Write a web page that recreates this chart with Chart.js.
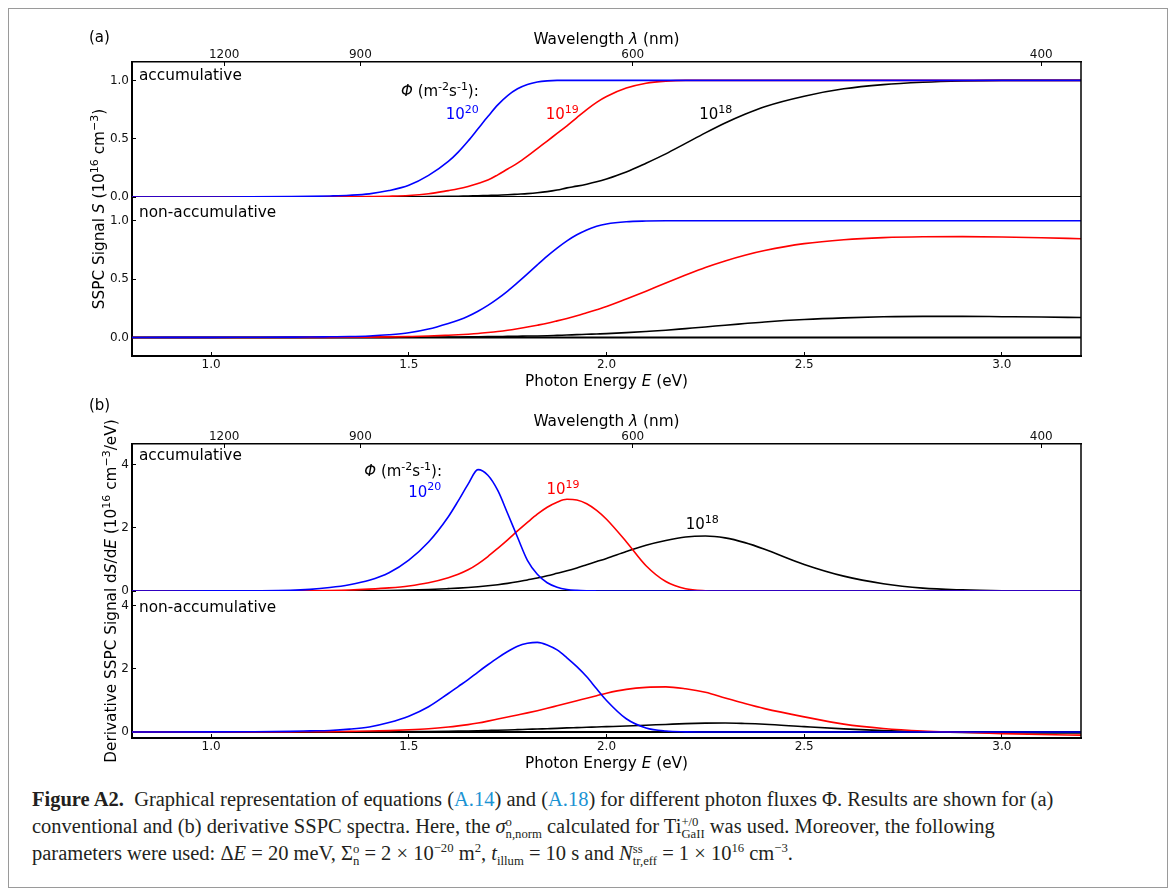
<!DOCTYPE html>
<html>
<head>
<meta charset="utf-8">
<script src="https://cdn.jsdelivr.net/npm/chart.js@4.4.1/dist/chart.umd.min.js"></script>
<style>
  body { margin: 0; background: #fff; width: 1176px; height: 890px; position: relative; overflow: hidden; }
  #frame { position: absolute; left: 8px; top: 8px; width: 1158px; height: 878px; border: 1px solid #9a9a9a; }
  canvas { position: absolute; left: 0; }
  #cap { position: absolute; left: 32px; top: 786px; font-family: "Liberation Serif", serif; font-size: 20.5px;
         line-height: 26.5px; color: #231f20; white-space: nowrap; }
  #cap .lnk { color: #1b93d3; }
  .ss { display: inline-block; vertical-align: -0.42em; line-height: 0.95; font-size: 0.62em; text-align: left; }
  .ss span { display: block; }
  sup { font-size: 0.62em; line-height: 0; }
</style>
</head>
<body>
<div id="frame"></div>
<canvas id="panelA" width="1176" height="395" style="top:0px"></canvas>
<canvas id="panelB" width="1176" height="387" style="top:390px"></canvas>
<div id="cap">
  <b>Figure A2.</b>&nbsp; Graphical representation of equations (<span class="lnk">A.14</span>) and (<span class="lnk">A.18</span>) for different photon fluxes Φ. Results are shown for (a)<br>
  conventional and (b) derivative SSPC spectra. Here, the <i>σ</i><span class="ss"><span>o</span><span>n,norm</span></span> calculated for Ti<span class="ss"><span>+/0</span><span>GaII</span></span> was used. Moreover, the following<br>
  parameters were used: Δ<i>E</i> = 20 meV, Σ<span class="ss"><span>o</span><span>n</span></span> = 2 × 10<sup>−20</sup> m<sup>2</sup>, <i>t</i><span class="ss"><span>&nbsp;</span><span>illum</span></span> = 10 s and <i>N</i><span class="ss"><span>ss</span><span>tr,eff</span></span> = 1 × 10<sup>16</sup> cm<sup>−3</sup>.
</div>
<script>
// photon energy grid (eV)
const energy = [0.8, 1.0, 1.1, 1.2, 1.25, 1.3, 1.35, 1.4, 1.45, 1.5, 1.55, 1.6, 1.625, 1.65, 1.675, 1.7, 1.725, 1.75,
  1.775, 1.8, 1.825, 1.85, 1.875, 1.9, 1.925, 1.95, 1.975, 2.0, 2.05, 2.1, 2.15, 2.2, 2.25, 2.3, 2.35, 2.4, 2.5, 2.6,
  2.7, 2.8, 2.9, 3.0, 3.1, 3.2];

// (a) SSPC signal S, accumulative
const accBlue = [0, 0.0005, 0.001, 0.003, 0.005, 0.009, 0.015, 0.027, 0.055, 0.10, 0.185, 0.305, 0.385, 0.48, 0.585,
  0.69, 0.79, 0.87, 0.928, 0.965, 0.986, 0.996, 1, 1, 1, 1, 1, 1, 1, 1, 1, 1, 1, 1, 1, 1, 1, 1, 1, 1, 1, 1, 1, 1];
const accRed = [0, 0, 0, 0.0005, 0.001, 0.0015, 0.002, 0.004, 0.007, 0.013, 0.028, 0.055, 0.07, 0.09, 0.115, 0.145, 0.19,
  0.24, 0.29, 0.35, 0.415, 0.48, 0.545, 0.61, 0.68, 0.75, 0.812, 0.862, 0.934, 0.976, 0.994, 1, 1, 1, 1, 1, 1, 1, 1, 1,
  1, 1, 1, 1];
const accBlack = [0, 0, 0, 0, 0, 0, 0, 0, 0.001, 0.002, 0.003, 0.005, 0.007, 0.009, 0.011, 0.013, 0.015, 0.019, 0.024,
  0.029, 0.036, 0.046, 0.06, 0.078, 0.093, 0.11, 0.13, 0.155, 0.215, 0.29, 0.37, 0.46, 0.55, 0.635, 0.71, 0.775, 0.865,
  0.928, 0.964, 0.984, 0.995, 1, 1, 1];
// (a) non-accumulative
const nonBlue = [0, 0.001, 0.002, 0.003, 0.004, 0.006, 0.008, 0.013, 0.023, 0.04, 0.072, 0.12, 0.148, 0.182, 0.225,
  0.275, 0.333, 0.398, 0.47, 0.545, 0.622, 0.697, 0.766, 0.828, 0.88, 0.922, 0.953, 0.973, 0.992, 0.998, 1, 1, 1, 1, 1,
  1, 1, 1, 1, 1, 1, 1, 1, 1];
const nonRed = [0, 0, 0, 0.0003, 0.0006, 0.001, 0.002, 0.003, 0.005, 0.008, 0.012, 0.019, 0.023, 0.028, 0.034, 0.042,
  0.051, 0.062, 0.075, 0.089, 0.105, 0.122, 0.142, 0.163, 0.186, 0.212, 0.238, 0.265, 0.33, 0.397, 0.467, 0.535, 0.6,
  0.656, 0.705, 0.745, 0.804, 0.838, 0.856, 0.863, 0.864, 0.861, 0.855, 0.846];
const nonBlack = [0, 0, 0, 0, 0, 0, 0, 0.001, 0.001, 0.002, 0.002, 0.003, 0.004, 0.005, 0.006, 0.007, 0.008, 0.009,
  0.01, 0.012, 0.013, 0.015, 0.018, 0.021, 0.024, 0.027, 0.03, 0.033, 0.041, 0.051, 0.062, 0.076, 0.09, 0.105, 0.119,
  0.133, 0.154, 0.168, 0.177, 0.181, 0.181, 0.178, 0.175, 0.171];

// (b) derivative dS/dE, accumulative
const dAccBlue = [0, 0.003, 0.008, 0.02, 0.05, 0.11, 0.2, 0.34, 0.58, 0.98, 1.55, 2.35, 2.85, 3.38, 3.84, 3.66, 3.18, 2.45,
  1.70, 0.97, 0.53, 0.26, 0.12, 0.05, 0.02, 0.007, 0.002, 0, 0, 0, 0, 0, 0, 0, 0, 0, 0, 0, 0, 0, 0, 0, 0, 0];
const dAccRed = [0, 0, 0.002, 0.005, 0.008, 0.015, 0.03, 0.06, 0.1, 0.16, 0.26, 0.42, 0.53, 0.67, 0.86, 1.09, 1.35, 1.62,
  1.9, 2.17, 2.43, 2.65, 2.81, 2.90, 2.88, 2.76, 2.55, 2.27, 1.56, 0.80, 0.30, 0.07, 0.01, 0, 0, 0, 0, 0, 0, 0, 0, 0, 0, 0];
const dAccBlack = [0, 0, 0, 0, 0.001, 0.002, 0.004, 0.007, 0.015, 0.028, 0.048, 0.075, 0.09, 0.11, 0.135, 0.165, 0.2,
  0.24, 0.29, 0.35, 0.41, 0.48, 0.56, 0.64, 0.73, 0.83, 0.93, 1.03, 1.25, 1.45, 1.6, 1.71, 1.74, 1.68, 1.53, 1.32, 0.84,
  0.47, 0.23, 0.09, 0.035, 0.01, 0.003, 0];
// (b) non-accumulative
const dNonBlue = [0, 0.003, 0.008, 0.02, 0.035, 0.05, 0.09, 0.16, 0.3, 0.5, 0.8, 1.22, 1.44, 1.66, 1.9, 2.13, 2.35, 2.55,
  2.72, 2.81, 2.84, 2.76, 2.6, 2.35, 2.07, 1.75, 1.37, 1.0, 0.42, 0.13, 0.03, 0.005, 0, 0, 0, 0, 0, 0, 0, 0, 0, 0, 0, 0];
const dNonRed = [0, 0, 0.002, 0.005, 0.007, 0.01, 0.02, 0.03, 0.045, 0.07, 0.105, 0.16, 0.195, 0.235, 0.285, 0.345, 0.41,
  0.475, 0.54, 0.605, 0.675, 0.75, 0.83, 0.91, 0.99, 1.07, 1.15, 1.23, 1.35, 1.415, 1.43, 1.37, 1.26, 1.08, 0.90, 0.74,
  0.48, 0.25, 0.11, 0.03, -0.01, -0.05, -0.08, -0.1];
const dNonBlack = [0, 0, 0, 0, 0, 0, 0.003, 0.005, 0.008, 0.012, 0.017, 0.024, 0.028, 0.033, 0.04, 0.048, 0.056, 0.065,
  0.075, 0.085, 0.095, 0.105, 0.115, 0.13, 0.14, 0.15, 0.16, 0.17, 0.19, 0.215, 0.24, 0.265, 0.28, 0.285, 0.27, 0.245,
  0.17, 0.1, 0.045, 0.01, -0.015, -0.025, -0.03, -0.03];

// axis ticks
const energyTicks = [1.0, 1.5, 2.0, 2.5, 3.0];
const wavelengthTicks = [1200, 900, 600, 400];
const sTicks = [0, 0.5, 1.0];
const dsTicks = [0, 2, 4];

const BLUE = '#0000ff', RED = '#ff0000', BLACK = '#000000';
const FONT = '"DejaVu Sans", sans-serif';
const TXT = 15.3;

function fontFor(kind, size) {
  const s = kind === '^' ? Math.round(size * 0.72) : size;
  return (kind === 'i' ? 'italic ' : '') + s + 'px ' + FONT;
}

// draw text made of normal / italic / superscript pieces
function drawRich(ctx, parts, x, y, size, color, align, rotate) {
  ctx.save();
  ctx.translate(x, y);
  if (rotate) ctx.rotate(-Math.PI / 2);
  let w = 0;
  parts.forEach(([t, k]) => { ctx.font = fontFor(k, size); w += ctx.measureText(t).width; });
  let cx = align === 'center' ? -w / 2 : align === 'right' ? -w : 0;
  ctx.fillStyle = color;
  ctx.textAlign = 'left';
  ctx.textBaseline = 'alphabetic';
  parts.forEach(([t, k]) => {
    ctx.font = fontFor(k, size);
    ctx.fillText(t, cx, k === '^' ? -size * 0.42 : 0);
    cx += ctx.measureText(t).width;
  });
  ctx.restore();
}

const phiLabel = [['Φ', 'i'], [' (m', ''], ['-2', '^'], ['s', ''], ['-1', '^'], ['):', '']];
const fluxLabel = (e) => [['10', ''], [e, '^']];

function curve(values, color, axis, order) {
  return {
    data: energy.map((e, i) => ({ x: e, y: values[i] })),
    borderColor: color, borderWidth: 1.6, yAxisID: axis, order: order,
    pointRadius: 0, cubicInterpolationMode: 'monotone', fill: false
  };
}
function zeroLine(axis) {
  return {
    data: [{ x: energy[0], y: 0 }, { x: energy[energy.length - 1], y: 0 }],
    borderColor: BLACK, borderWidth: 2, yAxisID: axis, order: 10, pointRadius: 0
  };
}

function yScale(p, which) {
  const top = which === 'top';
  return {
    type: 'linear', position: 'left', stack: 'panel', weight: top ? 2 : 1,
    stackWeight: top ? p.hTop : p.hBot,
    min: top ? 0 : p.botMin, max: top ? p.topMax : p.botMax,
    afterBuildTicks: (a) => { a.ticks = p.ticks.map(v => ({ value: v })); },
    afterFit: (a) => { a.width = 50; },
    grid: { drawOnChartArea: false, drawTicks: true, tickLength: -4, color: BLACK },
    border: { color: BLACK, width: 2 },
    ticks: { padding: 7, color: '#111', font: { family: FONT, size: 12 }, callback: p.fmt }
  };
}

function decor(p) {
  return {
    id: 'decor_' + p.tag,
    afterDraw(chart) {
      const ctx = chart.ctx, ca = chart.chartArea;
      const sx = chart.scales.x, yt = chart.scales.yTop, yb = chart.scales.yBot;
      ctx.save();
      ctx.strokeStyle = BLACK;
      ctx.lineWidth = 1.5;
      ctx.beginPath();
      ctx.moveTo(ca.right, ca.top);
      ctx.lineTo(ca.right, ca.bottom);
      ctx.stroke();
      ctx.restore();

      const midX = (ca.left + ca.right) / 2;
      drawRich(ctx, [['(' + p.tag + ')', '']], 89, p.tagY, 15, BLACK, 'left');
      drawRich(ctx, [['Wavelength ', ''], ['λ', 'i'], [' (nm)', '']], midX, ca.top - 18.5, TXT, BLACK, 'center');
      drawRich(ctx, [['Photon Energy ', ''], ['E', 'i'], [' (eV)', '']], midX, ca.bottom + 29.5, TXT, BLACK, 'center');
      drawRich(ctx, p.yTitle, p.yTitleX, (ca.top + ca.bottom) / 2, TXT, BLACK, 'center', true);

      drawRich(ctx, [['accumulative', '']], ca.left + 7, yt.top + p.noteTop, TXT, BLACK, 'left');
      drawRich(ctx, [['non-accumulative', '']], ca.left + 7, yb.top + p.noteBot, TXT, BLACK, 'left');
      p.notes.forEach(n => {
        drawRich(ctx, n.parts, sx.getPixelForValue(n.E), yt.getPixelForValue(n.v), 15, n.color, 'right');
      });
    }
  };
}

function makePanel(id, p) {
  const datasets = [
    zeroLine('yTop'), zeroLine('yBot'),
    curve(p.top[2], BLACK, 'yTop', 3), curve(p.top[1], RED, 'yTop', 2), curve(p.top[0], BLUE, 'yTop', 1),
    curve(p.bot[2], BLACK, 'yBot', 3), curve(p.bot[1], RED, 'yBot', 2), curve(p.bot[0], BLUE, 'yBot', 1)
  ];
  new Chart(document.getElementById(id), {
    type: 'line',
    data: { datasets: datasets },
    options: {
      responsive: false, animation: false, devicePixelRatio: 1,
      layout: { padding: { left: 82, right: 95, top: p.padTop, bottom: 0 } },
      plugins: { legend: { display: false }, tooltip: { enabled: false } },
      scales: {
        x: {
          type: 'linear', position: 'bottom', min: 0.8, max: 3.2,
          afterBuildTicks: (a) => { a.ticks = energyTicks.map(v => ({ value: v })); },
          afterFit: (a) => { a.height = 39; },
          grid: { drawOnChartArea: false, drawTicks: true, tickLength: -4, color: BLACK },
          border: { color: BLACK, width: 2 },
          ticks: { padding: 6, maxRotation: 0, autoSkip: false, color: '#111', font: { family: FONT, size: 12 },
                   callback: (v) => v.toFixed(1) }
        },
        xTop: {
          type: 'linear', position: 'top', min: 0.8, max: 3.2,
          afterBuildTicks: (a) => { a.ticks = wavelengthTicks.map(w => ({ value: 1239.84 / w })); },
          afterFit: (a) => { a.height = 42; },
          grid: { drawOnChartArea: false, drawTicks: true, tickLength: -4, color: BLACK },
          border: { color: BLACK, width: 1.5 },
          ticks: { padding: 4, maxRotation: 0, autoSkip: false, color: '#111', font: { family: FONT, size: 12 },
                   callback: (v, i) => String(wavelengthTicks[i]) }
        },
        yBot: yScale(p, 'bot'),
        yTop: yScale(p, 'top')
      }
    },
    plugins: [decor(p)]
  });
}

makePanel('panelA', {
  tag: 'a', tagY: 42, padTop: 20,
  top: [accBlue, accRed, accBlack], bot: [nonBlue, nonRed, nonBlack],
  topMax: 1.158, botMin: -0.159, botMax: 1.204, hTop: 135, hBot: 159,
  ticks: sTicks, fmt: (v) => v.toFixed(1),
  yTitleX: 104,
  yTitle: [['SSPC Signal ', ''], ['S', 'i'], [' (10', ''], ['16', '^'], [' cm', ''], ['−3', '^'], [')', '']],
  noteTop: 17.5, noteBot: 20,
  notes: [
    { parts: phiLabel, E: 1.677, v: 0.867, color: BLACK },
    { parts: fluxLabel('20'), E: 1.677, v: 0.67, color: BLUE },
    { parts: fluxLabel('19'), E: 1.93, v: 0.67, color: RED },
    { parts: fluxLabel('18'), E: 2.318, v: 0.67, color: BLACK }
  ]
});

makePanel('panelB', {
  tag: 'b', tagY: 20, padTop: 12,
  top: [dAccBlue, dAccRed, dAccBlack], bot: [dNonBlue, dNonRed, dNonBlack],
  topMax: 4.65, botMin: -0.19, botMax: 4.467, hTop: 147, hBot: 147,
  ticks: dsTicks, fmt: (v) => String(v),
  yTitleX: 116,
  yTitle: [['Derivative SSPC Signal d', ''], ['S', 'i'], ['/d', ''], ['E', 'i'], [' (10', ''], ['16', '^'], [' cm', ''],
           ['−3', '^'], ['/eV)', '']],
  noteTop: 16, noteBot: 21,
  notes: [
    { parts: phiLabel, E: 1.584, v: 3.64, color: BLACK },
    { parts: fluxLabel('20'), E: 1.582, v: 2.98, color: BLUE },
    { parts: fluxLabel('19'), E: 1.932, v: 3.07, color: RED },
    { parts: fluxLabel('18'), E: 2.284, v: 1.96, color: BLACK }
  ]
});
</script>
</body>
</html>
